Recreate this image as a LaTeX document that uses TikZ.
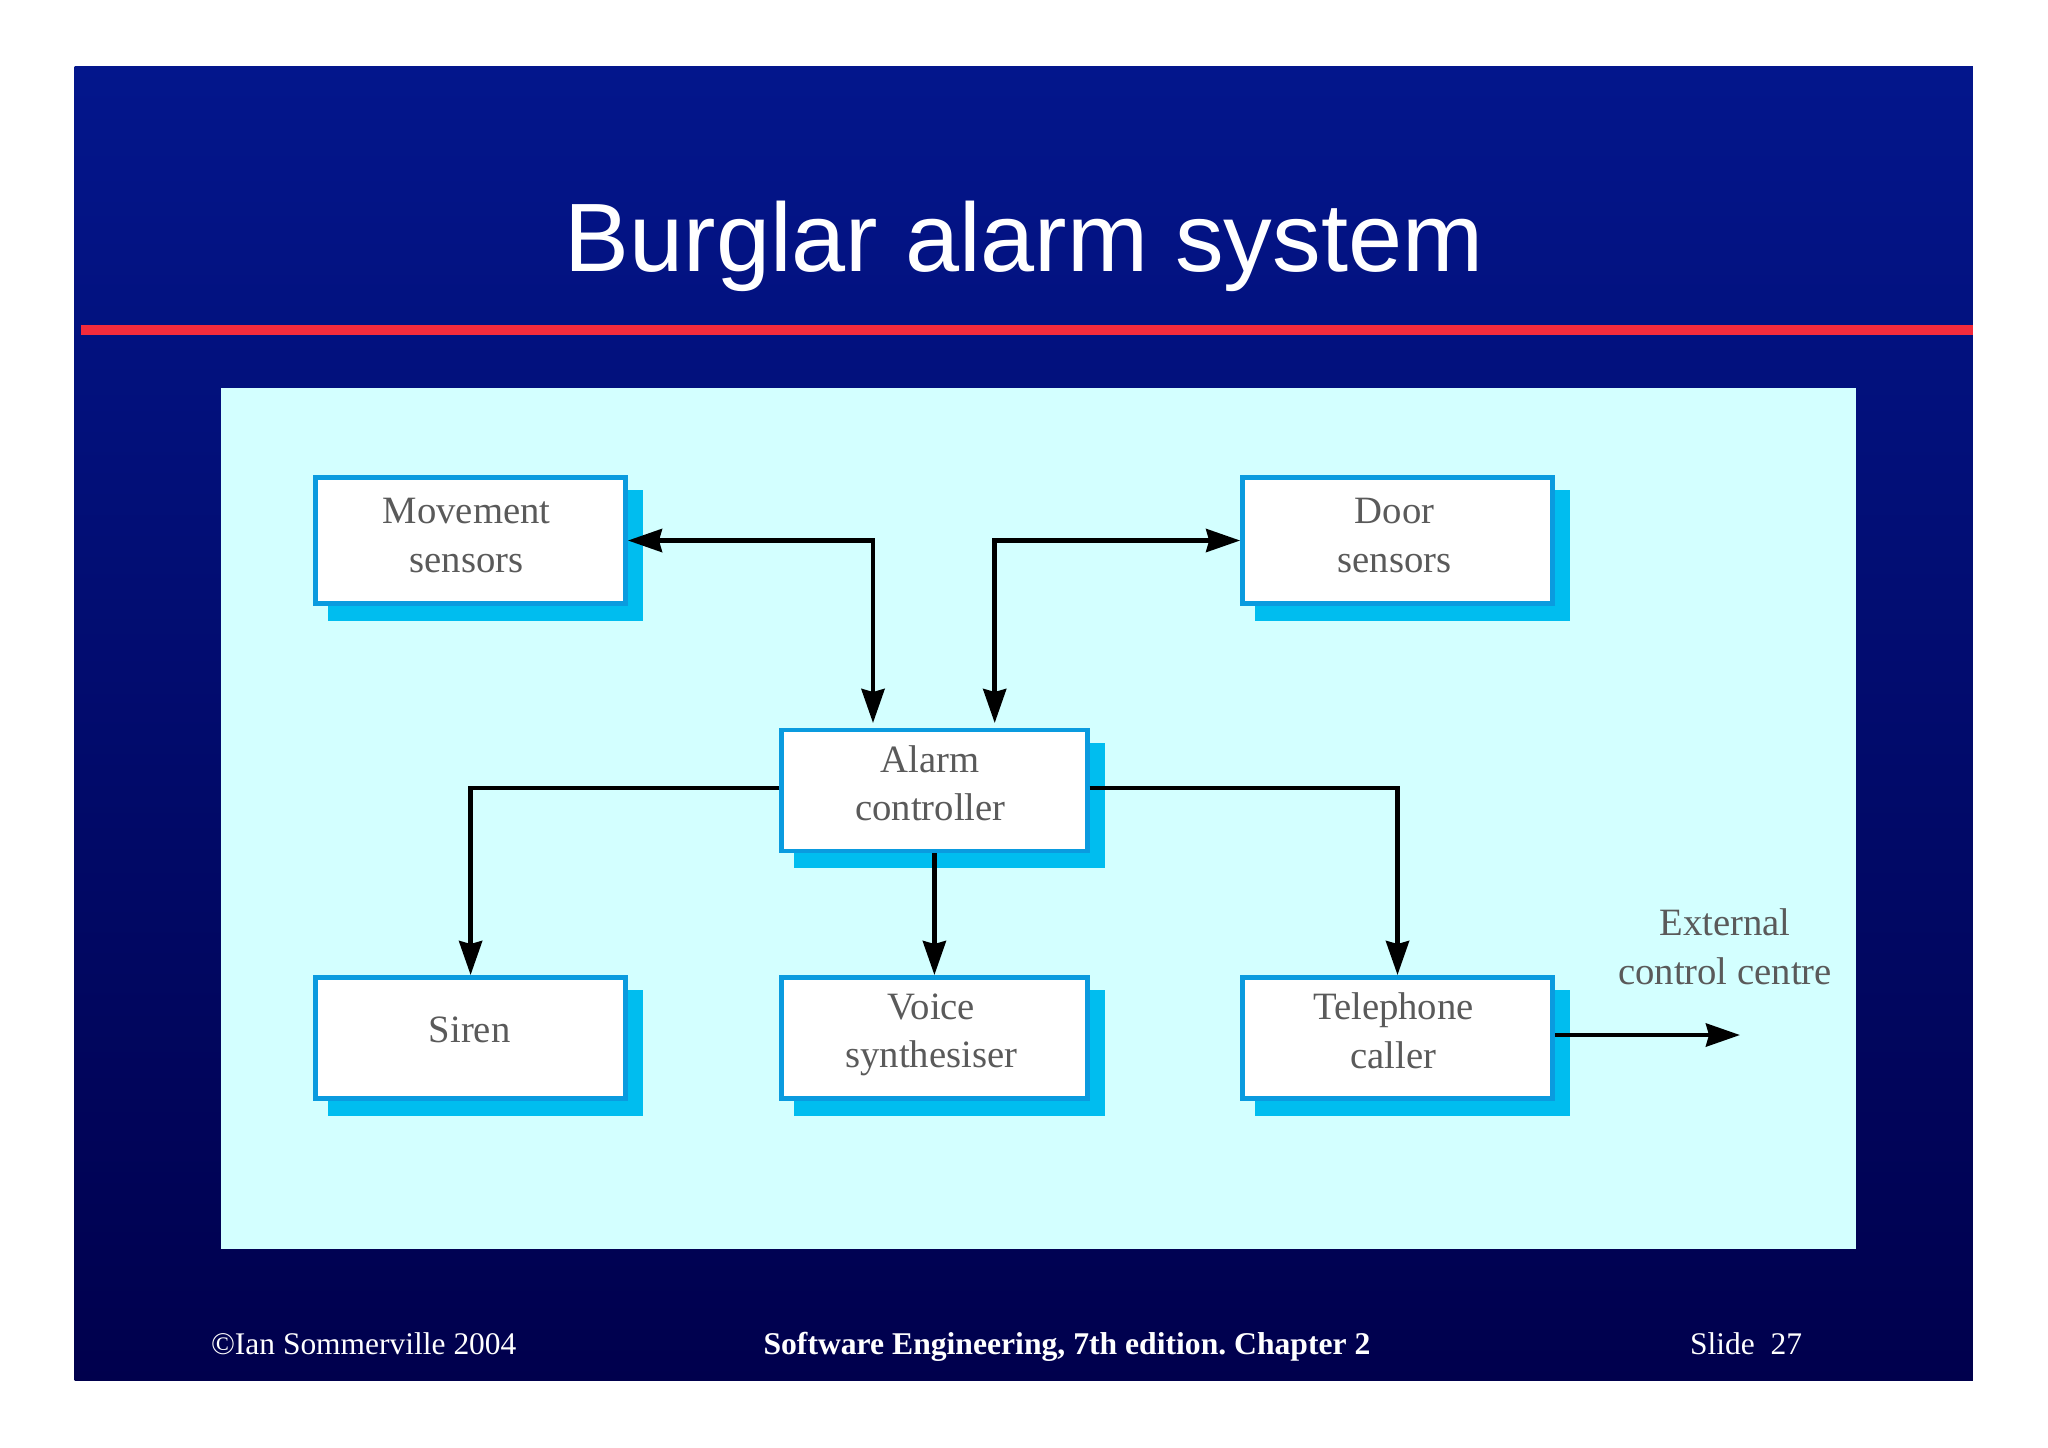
\documentclass[tikz,border=0pt]{standalone}
\usepackage{fontspec}
\usepackage{xcolor}
\setmainfont{Liberation Serif}
\newfontfamily\titlefont{Liberation Sans}
\usetikzlibrary{positioning,arrows.meta,shadows}
\definecolor{slidetop}{HTML}{03168C}
\definecolor{slidebottom}{HTML}{00004D}
\definecolor{ruleline}{HTML}{F42B3C}
\definecolor{panelfill}{HTML}{D3FFFF}
\definecolor{boxedge}{HTML}{0A9BDF}
\definecolor{boxshade}{HTML}{00BDEF}
\definecolor{boxtext}{HTML}{5A5A5A}
\tikzset{
	boxlabel/.style={align=center,text=boxtext,font=\fontsize{11}{13.9}\selectfont},
	sysbox/.style={draw=boxedge,fill=white,line width=.045cm,minimum width=3.1cm,minimum height=1.21cm,
		drop shadow={shadow xshift=.15cm,shadow yshift=-.15cm,fill=boxshade,draw=boxshade,opacity=1}},
	link/.style={draw=black,line width=.045cm,>={Stealth[length=.34cm,width=.23cm,inset=.03cm]}},
	footer/.style={text=white,anchor=base,font=\fontsize{8.95}{11}\selectfont},
}

\begin{document}
\begin{tikzpicture}[x=.01cm,y=-.01cm]
		\useasboundingbox (0,0) rectangle (2048,1447);
		\shade[top color=slidetop,bottom color=slidebottom] (74.7,66) rectangle (1972.8,1380.5);
		\fill[ruleline] (80.7,325) rectangle (1972.8,335);
		\fill[panelfill] (221,387.7) rectangle (1855.8,1249);
		\node[text=white,anchor=base,font=\titlefont\fontsize{27.65}{33}\selectfont] (title) at (1024,271) {Burglar alarm system};
		\node[sysbox,minimum height=1.26cm,label={[boxlabel,name=movementtext,xshift=-.04cm,yshift=.05cm]center:Movement\\sensors}] (movement) at (470.6,540.5) {};
		\node[sysbox,minimum height=1.26cm,label={[boxlabel,name=doortext,xshift=-.03cm,yshift=.05cm]center:Door\\sensors}] (door) at (1397.5,540.5) {};
		\node[sysbox,minimum width=3.055cm,label={[boxlabel,name=alarmtext,xshift=-.04cm,yshift=.07cm]center:Alarm\\controller}] (alarm) at (934.4,790.3) {};
		\node[sysbox,label={[boxlabel,name=sirentext,xshift=-.01cm,yshift=.08cm]center:Siren}] (siren) at (470.6,1037.8) {};
		\node[sysbox,minimum width=3.055cm,label={[boxlabel,name=voicetext,xshift=-.03cm,yshift=.03cm]center:Voice\\synthesiser}] (voice) at (934.4,1037.8) {};
		\node[sysbox,label={[boxlabel,name=telephonetext,xshift=-.04cm,yshift=.07cm]center:Telephone\\caller}] (telephone) at (1397.5,1037.8) {};
		\node[boxlabel] (external) at (1725,947) {External\\control centre};
		\coordinate (alarmleft) at (873,723);
		\coordinate (alarmright) at (994.7,723);
		\coordinate (externalend) at (1740,1035);
		\draw[link,<->] (movement.east) -| (alarmleft);
		\draw[link,<->] (door.west) -| (alarmright);
		\draw[link,->] ([yshift=.025cm]alarm.west) -| (siren.north);
		\draw[link,->] (alarm.south) -- (voice.north);
		\draw[link,->] ([yshift=.025cm]alarm.east) -| (telephone.north);
		\draw[link,->] (telephone.east |- externalend) -- (externalend);
		\node[footer,anchor=base west] (copyright) at (198.6,1354) {©Ian Sommerville 2004};
		\node[footer,font=\fontsize{9}{11}\selectfont\bfseries\frenchspacing] (book) at (1067,1354) {Software Engineering, 7th edition. Chapter 2};
		\node[footer] (slidenum) at (1746,1354) {Slide~~27};
	\end{tikzpicture}
\end{document}
